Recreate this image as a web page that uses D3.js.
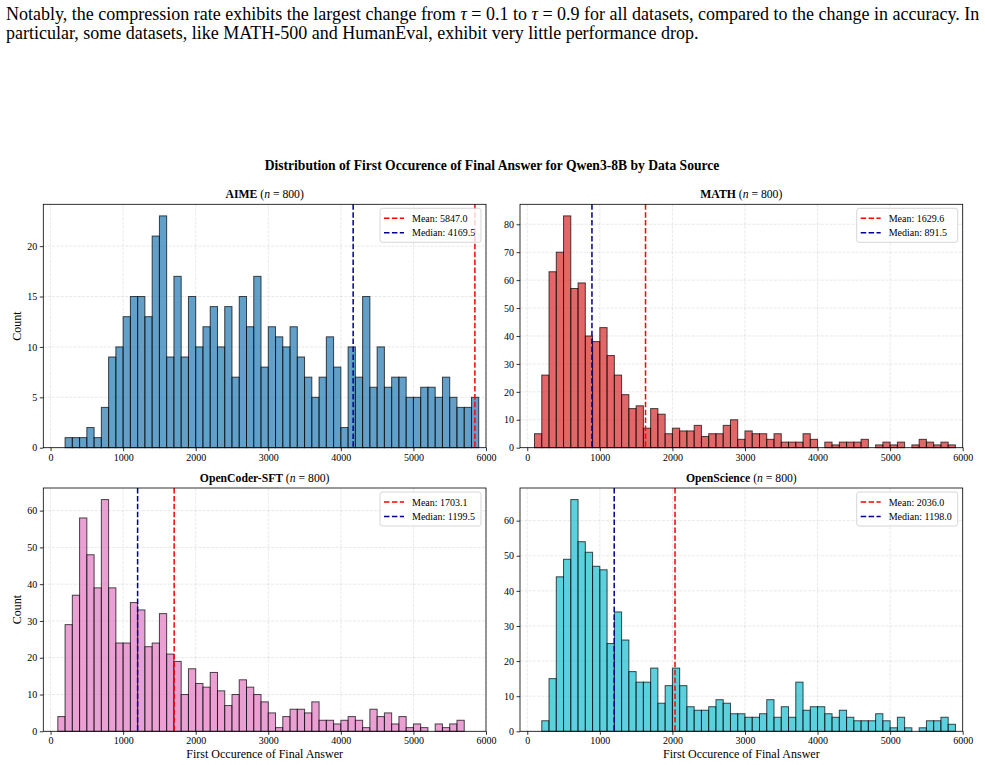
<!DOCTYPE html>
<html>
<head>
<meta charset="utf-8">
<script src="https://cdn.jsdelivr.net/npm/d3@7"></script>
<style>
  body { margin: 0; background: #fff; }
  svg { display: block; font-family: "Liberation Serif", "Times New Roman", serif; }
</style>
</head>
<body>
<div id="chart"></div>
<script>
// bins are 100 wide, starting at 0
const binWidth = 100;
const xTicks = [0, 1000, 2000, 3000, 4000, 5000, 6000];

const aimeCounts = [0, 0, 1, 1, 1, 2, 1, 4, 9, 10,
  13, 15, 15, 13, 21, 23, 9, 17, 9, 15,
  10, 12, 14, 10, 14, 7, 15, 12, 17, 8,
  12, 11, 10, 12, 9, 7, 5, 7, 11, 8,
  2, 10, 7, 15, 6, 10, 6, 7, 7, 5,
  5, 6, 6, 5, 7, 5, 4, 4, 5];
const mathCounts = [0, 5, 26, 63, 70, 83, 57, 59, 40, 38,
  43, 33, 26, 19, 14, 15, 7, 14, 12, 5,
  7, 6, 6, 8, 4, 5, 5, 8, 10, 3,
  6, 5, 5, 3, 5, 2, 2, 2, 5, 3,
  0, 2, 1, 2, 2, 2, 3, 0, 1, 2,
  1, 2, 0, 1, 3, 2, 1, 2, 1];
const coderCounts = [0, 4, 29, 37, 58, 48, 39, 63, 39, 24,
  24, 35, 33, 23, 24, 32, 21, 19, 10, 17,
  13, 12, 16, 11, 7, 10, 14, 12, 10, 8,
  5, 1, 4, 6, 6, 5, 8, 3, 3, 2,
  3, 4, 3, 1, 6, 4, 5, 2, 4, 1,
  2, 1, 0, 2, 1, 2, 3];
const scienceCounts = [0, 0, 3, 15, 44, 49, 66, 54, 51, 47,
  46, 25, 34, 26, 17, 14, 14, 18, 8, 13,
  18, 13, 7, 6, 6, 7, 9, 8, 5, 5,
  4, 4, 5, 9, 4, 7, 4, 14, 6, 7,
  7, 5, 4, 6, 4, 3, 3, 3, 5, 3,
  1, 4, 1, 0, 1, 3, 3, 4, 2];

const sourceNames = ["AIME", "MATH", "OpenCoder-SFT", "OpenScience"];
const sourceN = [800, 800, 800, 800];
const sourceColors = ["#1f77b4", "#d62728", "#e377c2", "#17becf"];
const meanValues = [5847.0, 1629.6, 1703.1, 2036.0];
const medianValues = [4169.5, 891.5, 1199.5, 1198.0];
const yTickSets = [[0, 5, 10, 15, 20], d3.range(0, 81, 10), d3.range(0, 61, 10), d3.range(0, 61, 10)];
const allCounts = [aimeCounts, mathCounts, coderCounts, scienceCounts];

const W = 985, H = 765;
const svg = d3.select("#chart").append("svg").attr("width", W).attr("height", H);

// paragraph text above the figure (first line is justified)
const para = svg.append("g").attr("font-size", 18).attr("fill", "#000");
const l1 = para.append("text").attr("x", 6).attr("y", 20);
l1.append("tspan").text("Notably, the compression rate exhibits the largest change from ");
l1.append("tspan").attr("font-style", "italic").text("τ");
l1.append("tspan").text(" = 0.1 to ");
l1.append("tspan").attr("font-style", "italic").text("τ");
l1.append("tspan").text(" = 0.9 for all datasets, compared to the change in accuracy. In");
const natural = l1.node().getComputedTextLength();
const spaces = l1.text().split(" ").length - 1;
l1.attr("word-spacing", Math.max(0, (972 - natural) / spaces));
para.append("text").attr("x", 6).attr("y", 39)
  .text("particular, some datasets, like MATH-500 and HumanEval, exhibit very little performance drop.");

svg.append("text")
  .attr("x", 492).attr("y", 170)
  .attr("text-anchor", "middle")
  .attr("font-size", 13.6).attr("font-weight", "bold")
  .text("Distribution of First Occurence of Final Answer for Qwen3-8B by Data Source");

const panels = [
  {x0: 43.3, x1: 486, y0: 204.3, y1: 447.7},
  {x0: 520, x1: 962.7, y0: 204.3, y1: 447.7},
  {x0: 43.3, x1: 486, y0: 488, y1: 731.3},
  {x0: 520, x1: 962.7, y0: 488, y1: 731.3}
];

panels.forEach((p, i) => {
  const counts = allCounts[i];
  const bins = counts.map((c, k) => ({x0: k * binWidth, x1: (k + 1) * binWidth, c: c}));
  const x = d3.scaleLinear().domain([-100, 6000]).range([p.x0, p.x1]);
  const y = d3.scaleLinear().domain([0, d3.max(counts) * 1.05]).range([p.y1, p.y0]);
  const g = svg.append("g");

  // grid
  g.append("g").selectAll("line").data(xTicks).join("line")
    .attr("x1", d => x(d)).attr("x2", d => x(d)).attr("y1", p.y0).attr("y2", p.y1)
    .attr("stroke", "#b0b0b0").attr("stroke-opacity", 0.35).attr("stroke-width", 0.8)
    .attr("stroke-dasharray", "3,1.3");
  g.append("g").selectAll("line").data(yTickSets[i]).join("line")
    .attr("x1", p.x0).attr("x2", p.x1).attr("y1", d => y(d)).attr("y2", d => y(d))
    .attr("stroke", "#b0b0b0").attr("stroke-opacity", 0.35).attr("stroke-width", 0.8)
    .attr("stroke-dasharray", "3,1.3");

  // bars
  g.append("g").selectAll("rect").data(bins).join("rect")
    .attr("x", d => x(d.x0)).attr("width", d => x(d.x1) - x(d.x0))
    .attr("y", d => y(d.c)).attr("height", d => y(0) - y(d.c))
    .attr("fill", sourceColors[i]).attr("fill-opacity", 0.7)
    .attr("stroke", "#000").attr("stroke-opacity", 0.7).attr("stroke-width", 1);

  // mean / median lines
  g.append("line").attr("x1", x(meanValues[i])).attr("x2", x(meanValues[i]))
    .attr("y1", p.y0).attr("y2", p.y1)
    .attr("stroke", "#ff0000").attr("stroke-width", 1.5).attr("stroke-dasharray", "5.5,2.4");
  g.append("line").attr("x1", x(medianValues[i])).attr("x2", x(medianValues[i]))
    .attr("y1", p.y0).attr("y2", p.y1)
    .attr("stroke", "#00008b").attr("stroke-width", 1.5).attr("stroke-dasharray", "5.5,2.4");

  // axes
  const xAxis = g.append("g").attr("transform", `translate(0,${p.y1})`)
    .call(d3.axisBottom(x).tickValues(xTicks).tickFormat(d3.format("d")).tickSizeOuter(0).tickSize(3.5));
  const yAxis = g.append("g").attr("transform", `translate(${p.x0},0)`)
    .call(d3.axisLeft(y).tickValues(yTickSets[i]).tickSizeOuter(0).tickSize(3.5));
  [xAxis, yAxis].forEach(a => {
    a.select(".domain").remove();
    a.selectAll("text").attr("font-family", "Liberation Serif").attr("font-size", 10).attr("fill", "#000");
    a.selectAll("line").attr("stroke", "#000").attr("stroke-width", 0.8);
  });
  xAxis.selectAll("text").attr("y", 6);
  yAxis.selectAll("text").attr("x", -6);

  g.append("rect").attr("x", p.x0).attr("y", p.y0)
    .attr("width", p.x1 - p.x0).attr("height", p.y1 - p.y0)
    .attr("fill", "none").attr("stroke", "#000").attr("stroke-width", 0.8);

  // subplot title
  const t = g.append("text").attr("x", (p.x0 + p.x1) / 2).attr("y", p.y0 - 6)
    .attr("text-anchor", "middle").attr("font-size", 11.7);
  t.append("tspan").attr("font-weight", "bold").text(sourceNames[i] + " ");
  t.append("tspan").text("(");
  t.append("tspan").attr("font-style", "italic").text("n");
  t.append("tspan").text(" = " + sourceN[i] + ")");

  if (i % 2 === 0) {
    g.append("text").attr("transform", `translate(21,${(p.y0 + p.y1) / 2}) rotate(-90)`)
      .attr("text-anchor", "middle").attr("font-size", 12).text("Count");
  }
  if (i >= 2) {
    g.append("text").attr("x", (p.x0 + p.x1) / 2).attr("y", p.y1 + 27)
      .attr("text-anchor", "middle").attr("font-size", 12).text("First Occurence of Final Answer");
  }

  // legend
  const lw = 101, lh = 34;
  const lx = p.x1 - 5 - lw, ly = p.y0 + 4;
  const leg = g.append("g");
  leg.append("rect").attr("x", lx).attr("y", ly).attr("width", lw).attr("height", lh)
    .attr("rx", 2.5).attr("fill", "#fff").attr("fill-opacity", 0.8)
    .attr("stroke", "#cccccc").attr("stroke-width", 0.8);
  const entries = [
    {label: "Mean: " + meanValues[i].toFixed(1), color: "#ff0000"},
    {label: "Median: " + medianValues[i].toFixed(1), color: "#00008b"}
  ];
  entries.forEach((e, k) => {
    const ey = ly + 10 + k * 14.5;
    leg.append("line").attr("x1", lx + 4).attr("x2", lx + 24).attr("y1", ey).attr("y2", ey)
      .attr("stroke", e.color).attr("stroke-width", 1.5).attr("stroke-dasharray", "5.5,2.4");
    leg.append("text").attr("x", lx + 32).attr("y", ey + 3.5)
      .attr("font-size", 10).text(e.label);
  });
});
</script>
</body>
</html>
